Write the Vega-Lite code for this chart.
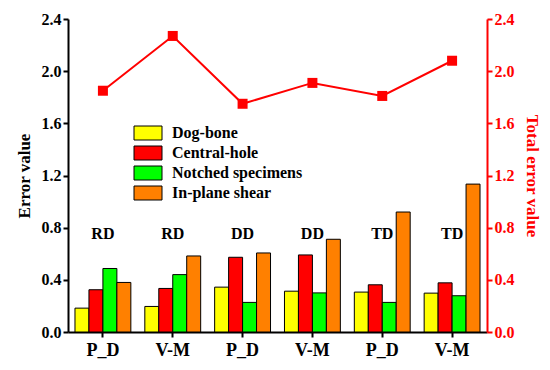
{
  "$schema": "https://vega.github.io/schema/vega-lite/v6.json",
  "width": 419,
  "height": 313,
  "autosize": {"type": "none"},
  "padding": {"left": 68, "top": 19, "right": 63, "bottom": 38},
  "background": "white",
  "config": {
    "view": {"stroke": null},
    "font": "Liberation Serif",
    "axis": {"labelFont": "Liberation Serif", "titleFont": "Liberation Serif"},
    "legend": {"labelFont": "Liberation Serif"},
    "text": {"font": "Liberation Serif"}
  },
  "datasets": {
    "bars": [
      {"sample": "RD P_D", "type": "Dog-bone", "error": 0.183},
      {"sample": "RD P_D", "type": "Central-hole", "error": 0.324},
      {"sample": "RD P_D", "type": "Notched specimens", "error": 0.487},
      {"sample": "RD P_D", "type": "In-plane shear", "error": 0.38},
      {"sample": "RD V-M", "type": "Dog-bone", "error": 0.196},
      {"sample": "RD V-M", "type": "Central-hole", "error": 0.334},
      {"sample": "RD V-M", "type": "Notched specimens", "error": 0.44},
      {"sample": "RD V-M", "type": "In-plane shear", "error": 0.583},
      {"sample": "DD P_D", "type": "Dog-bone", "error": 0.344},
      {"sample": "DD P_D", "type": "Central-hole", "error": 0.573},
      {"sample": "DD P_D", "type": "Notched specimens", "error": 0.227},
      {"sample": "DD P_D", "type": "In-plane shear", "error": 0.606},
      {"sample": "DD V-M", "type": "Dog-bone", "error": 0.313},
      {"sample": "DD V-M", "type": "Central-hole", "error": 0.591},
      {"sample": "DD V-M", "type": "Notched specimens", "error": 0.3},
      {"sample": "DD V-M", "type": "In-plane shear", "error": 0.711},
      {"sample": "TD P_D", "type": "Dog-bone", "error": 0.306},
      {"sample": "TD P_D", "type": "Central-hole", "error": 0.362},
      {"sample": "TD P_D", "type": "Notched specimens", "error": 0.227},
      {"sample": "TD P_D", "type": "In-plane shear", "error": 0.92},
      {"sample": "TD V-M", "type": "Dog-bone", "error": 0.298},
      {"sample": "TD V-M", "type": "Central-hole", "error": 0.377},
      {"sample": "TD V-M", "type": "Notched specimens", "error": 0.278},
      {"sample": "TD V-M", "type": "In-plane shear", "error": 1.134}
    ],
    "totals": [
      {"sample": "RD P_D", "dir": "RD", "total": 1.85},
      {"sample": "RD V-M", "dir": "RD", "total": 2.27},
      {"sample": "DD P_D", "dir": "DD", "total": 1.75},
      {"sample": "DD V-M", "dir": "DD", "total": 1.91},
      {"sample": "TD P_D", "dir": "TD", "total": 1.81},
      {"sample": "TD V-M", "dir": "TD", "total": 2.08}
    ]
  },
  "encoding": {
    "x": {
      "field": "sample",
      "type": "nominal",
      "sort": null,
      "scale": {"paddingInner": 0.2, "paddingOuter": 0.1},
      "axis": {
        "title": null,
        "labelExpr": "split(datum.label, ' ')[1]",
        "labelAngle": 0,
        "labelFontSize": 18,
        "labelFontWeight": "bold",
        "labelColor": "black",
        "labelPadding": 4,
        "domainColor": "black",
        "domainWidth": 2,
        "tickColor": "black",
        "tickWidth": 2,
        "tickSize": 5
      }
    }
  },
  "layer": [
    {
      "data": {"name": "bars"},
      "mark": {"type": "bar", "stroke": "black", "strokeWidth": 1},
      "encoding": {
        "xOffset": {
          "field": "type",
          "sort": ["Dog-bone", "Central-hole", "Notched specimens", "In-plane shear"],
          "scale": {"paddingInner": 0, "paddingOuter": 0}
        },
        "y": {
          "field": "error",
          "type": "quantitative",
          "scale": {"domain": [0, 2.4], "nice": false},
          "axis": {
            "title": "Error value",
            "titleFontSize": 17,
            "titleFontWeight": "bold",
            "titleColor": "black",
            "titlePadding": 8,
            "values": [0, 0.4, 0.8, 1.2, 1.6, 2.0, 2.4],
            "format": ".1f",
            "labelFontSize": 16,
            "labelFontWeight": "bold",
            "labelColor": "black",
            "domainColor": "black",
            "domainWidth": 2,
            "tickColor": "black",
            "tickWidth": 2,
            "tickSize": 5,
            "grid": false
          }
        },
        "color": {
          "field": "type",
          "type": "nominal",
          "sort": ["Dog-bone", "Central-hole", "Notched specimens", "In-plane shear"],
          "scale": {
            "domain": ["Dog-bone", "Central-hole", "Notched specimens", "In-plane shear"],
            "range": ["#FFFF00", "#FF0000", "#00FF00", "#FF8000"]
          },
          "legend": {
            "title": null,
            "orient": "none",
            "legendX": 72,
            "legendY": 106,
            "symbolType": "M-2,-1H2V1H-2Z",
            "symbolSize": 196,
            "symbolStrokeColor": "black",
            "symbolStrokeWidth": 1,
            "symbolOpacity": 1,
            "labelFontSize": 16,
            "labelFontWeight": "bold",
            "labelColor": "black",
            "labelOffset": 16,
            "rowPadding": 2
          }
        }
      }
    },
    {
      "data": {"name": "totals"},
      "mark": {"type": "text", "fontSize": 16, "fontWeight": "bold", "color": "black"},
      "encoding": {
        "y": {"datum": 0.75, "type": "quantitative", "scale": {"domain": [0, 2.4], "nice": false}, "axis": null},
        "text": {"field": "dir"}
      }
    },
    {
      "data": {"name": "totals"},
      "mark": {
        "type": "line",
        "color": "#FF0000",
        "strokeWidth": 2,
        "point": {"shape": "square", "size": 100, "filled": true, "color": "#FF0000"}
      },
      "encoding": {
        "y": {
          "field": "total",
          "type": "quantitative",
          "scale": {"domain": [0, 2.4], "nice": false},
          "axis": {
            "orient": "right",
            "title": "Total error value",
            "titleFontSize": 17,
            "titleFontWeight": "bold",
            "titleColor": "#FF0000",
            "titlePadding": 8,
            "values": [0, 0.4, 0.8, 1.2, 1.6, 2.0, 2.4],
            "format": ".1f",
            "labelFontSize": 16,
            "labelFontWeight": "bold",
            "labelColor": "#FF0000",
            "domainColor": "#FF0000",
            "domainWidth": 2,
            "tickColor": "#FF0000",
            "tickWidth": 2,
            "tickSize": 5,
            "grid": false
          }
        }
      }
    }
  ],
  "resolve": {"scale": {"y": "independent"}}
}
